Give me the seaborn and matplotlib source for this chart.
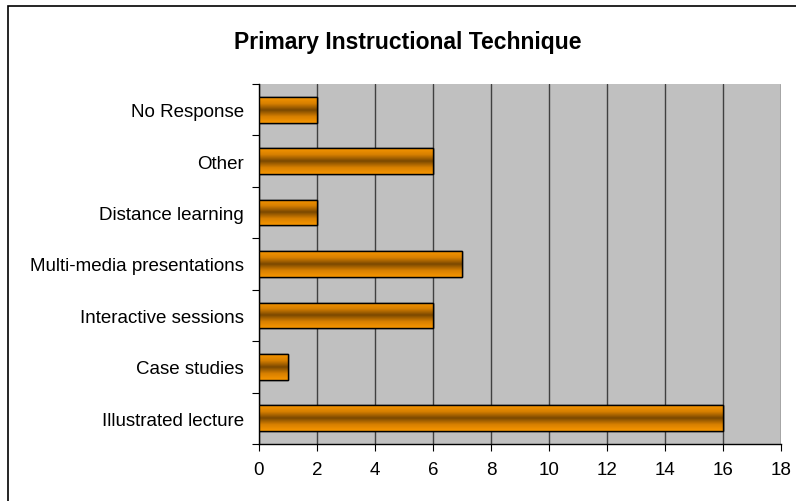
import numpy as np
import pandas as pd
import matplotlib
matplotlib.use("Agg")
import matplotlib.pyplot as plt
import seaborn as sns
from matplotlib.colors import LinearSegmentedColormap
from matplotlib.patches import Rectangle

categories = ["No Response", "Other", "Distance learning", "Multi-media presentations",
              "Interactive sessions", "Case studies", "Illustrated lecture"]
counts = [2, 6, 2, 7, 6, 1, 16]
x_ticks = [0, 2, 4, 6, 8, 10, 12, 14, 16, 18]
title = "Primary Instructional Technique"

sns.set_style("white")
plt.rcParams['font.family'] = ['Liberation Sans', 'DejaVu Sans']
plt.rcParams['text.color'] = 'black'
plt.rcParams['xtick.color'] = 'black'
plt.rcParams['ytick.color'] = 'black'
plt.rcParams['xtick.labelcolor'] = 'black'
plt.rcParams['ytick.labelcolor'] = 'black'

df = pd.DataFrame({"category": categories, "count": counts})

fig = plt.figure(figsize=(7.96, 5.02), dpi=100)
ax = fig.add_axes([259/796, 1-445/502, (781-259)/796, (445-85)/502])
ax.set_facecolor("#C0C0C0")

sns.barplot(data=df, y="category", x="count", orient="h", ax=ax, width=0.5,
            color="#E08800", edgecolor="black", linewidth=1.0, zorder=3)

# gradient fill for bars
cmap = LinearSegmentedColormap.from_list("g", ["#F79600", "#D88000", "#7A4800", "#D88000", "#F79600"])
grad = np.linspace(0, 1, 256).reshape(-1, 1)
for p in ax.patches:
    x0, y0 = p.get_x(), p.get_y()
    w, h = p.get_width(), p.get_height()
    im = ax.imshow(grad, cmap=cmap, aspect="auto", extent=[x0, x0 + w, y0 + h, y0],
                   zorder=3.5, interpolation="bilinear")
    im.set_clip_path(p)
    edge = Rectangle((x0, y0), w, h, fill=False, edgecolor="black", linewidth=1.0, zorder=4)
    ax.add_patch(edge)

ax.set_xlim(0, 18)
ax.set_ylim(len(categories) - 0.5, -0.5)
ax.set_xticks(x_ticks)
ax.set_xticklabels([str(t) for t in x_ticks], fontsize=13.5, color="black")
ax.set_yticks(range(len(categories)))
ax.set_yticklabels(categories, fontsize=13.5, color="black")
ax.set_yticks(np.arange(-0.5, len(categories), 1.0), minor=True)
ax.tick_params(left=True, bottom=True, which="both")
ax.tick_params(axis="y", which="major", length=0, pad=11)
ax.tick_params(axis="y", which="minor", length=5, width=0.8, color="black", direction="out")
ax.tick_params(axis="x", which="major", length=5, width=0.8, color="black", direction="out", pad=7)
ax.xaxis.grid(True, color="#404040", linewidth=1.0, zorder=1)
ax.set_axisbelow(True)
ax.set_xlabel("")
ax.set_ylabel("")
for s in ["top", "right"]:
    ax.spines[s].set_visible(False)
for s in ["left", "bottom"]:
    ax.spines[s].set_color("black")
    ax.spines[s].set_linewidth(1.0)

fig.text(408/796, 1-42/502, title, ha="center", va="center", fontsize=16.5,
         fontweight="bold", color="black")

# outer frame
fig.patches.append(Rectangle((8/796, -0.1), 1.1, 1 - 7/502 + 0.1, transform=fig.transFigure,
                             fill=False, edgecolor="black", linewidth=1.2))

fig.savefig("out.png", dpi=100)
